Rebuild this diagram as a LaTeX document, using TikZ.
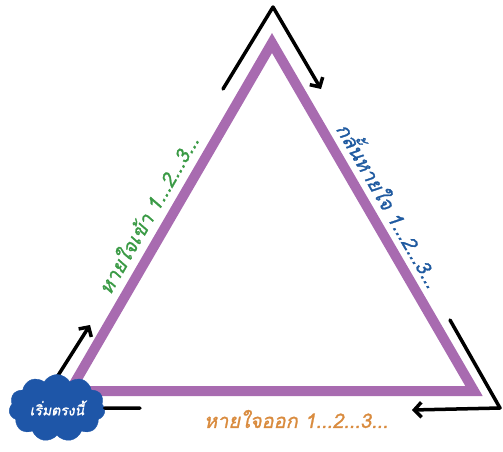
\documentclass[tikz,border=0pt]{standalone}
\usepackage{fontspec}
\usepackage{xcolor}
\usetikzlibrary{arrows.meta,positioning,shapes.symbols,calc}
\newfontfamily\thaifont[Script=Thai,FakeSlant=0.2,FakeBold=1.2]{Loma}
\definecolor{triviolet}{HTML}{A86BB0}
\definecolor{inhale}{HTML}{3A9A45}
\definecolor{holdblue}{HTML}{1F5AA0}
\definecolor{exhale}{HTML}{D98B3E}
\definecolor{cloudblue}{HTML}{1E56A8}

\begin{document}
\begin{tikzpicture}[
  x=1pt, y=-1pt,
  side/.style={draw=triviolet, line width=10pt, line join=miter},
  flow/.style={draw=black, line width=3.5pt, line join=round, line cap=round,
               -{Straight Barb[length=7pt,width=15pt,line width=3.5pt]}},
  stub/.style={draw=black, line width=3.5pt, line cap=round},
  steplabel/.style={font=\thaifont\fontsize{20}{20}\selectfont, inner sep=1pt},
  startcloud/.style={cloud, cloud puffs=11, cloud puff arc=120, aspect=1.45,
                     fill=cloudblue, draw=cloudblue, text=white,
                     minimum width=96pt, minimum height=67pt, inner sep=0pt,
                     font=\thaifont\fontsize{14}{14}\selectfont}
]
  \useasboundingbox (0,0) rectangle (503,451);

  % Triangle corners
  \coordinate (apex) at (272,43);
  \coordinate (left) at (70,391);
  \coordinate (right) at (474,391);
  \draw[side] (apex) -- (right) -- (left) -- cycle;

  % Arrow way points
  \coordinate (topstart) at (223,89);
  \coordinate (topturn) at (273,7);
  \coordinate (topend) at (321,89);
  \coordinate (rightstart) at (450,320);
  \coordinate (rightturn) at (500,408);
  \coordinate (rightend) at (412,410);
  \coordinate (leftstart) at (52,385);
  \coordinate (leftend) at (90,325);
  \coordinate (stubend) at (140,408);

  % Arrows
  \draw[flow] (topstart) -- (topturn) -- (topend);
  \draw[flow] (rightstart) -- (rightturn) -- (rightend);
  \draw[flow] (leftstart) -- (leftend);

  % Start cloud
  \node[startcloud] (start) at (57,408) {เริ่มตรงนี้};
  \draw[stub] (start.east) -- (stubend);

  % Side labels
  \node[steplabel, text=inhale, rotate=60.06] (inlabel) at (147,214) {หายใจเข้า 1...2...3...};
  \node[steplabel, text=holdblue, rotate=-60.06] (holdlabel) at (391,204) {กลั้นหายใจ 1...2...3...};
  \node[steplabel, text=exhale] (outlabel) at (296,419) {หายใจออก 1...2...3...};
\end{tikzpicture}
\end{document}
